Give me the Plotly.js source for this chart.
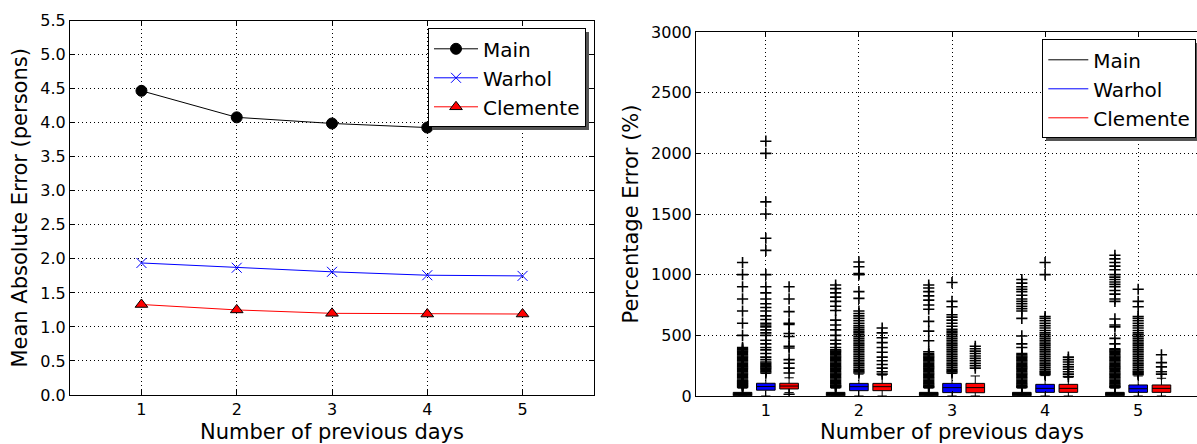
<!DOCTYPE html>
<html>
<head>
<meta charset="utf-8">
<script src="https://cdn.plot.ly/plotly-3.0.1.min.js"></script>
<style>
html, body { margin: 0; padding: 0; overflow: hidden; background: #fff; width: 1197px; height: 444px; }
#chart { width: 1210px; height: 444px; }
</style>
</head>
<body>
<div id="chart"></div>
<script>
// ---------- data ----------
const days = [1, 2, 3, 4, 5];
const seriesNames = ["Main", "Warhol", "Clemente"];

// Left panel: Mean Absolute Error (persons)
const maeMain = [4.47, 4.08, 3.99, 3.93, 3.99];
const maeWarhol = [1.94, 1.87, 1.81, 1.76, 1.75];
const maeClemente = [1.33, 1.25, 1.20, 1.19, 1.19];

// Right panel: Percentage Error (%) box statistics per day
const mainQ1 = [2, 2, 2, 2, 2];
const mainMedian = [12, 12, 12, 12, 12];
const mainQ3 = [30, 30, 30, 30, 30];
const mainLower = [0, 0, 0, 0, 0];
const mainUpper = [65, 65, 65, 65, 65];

const warholQ1 = [48, 44, 28, 30, 30];
const warholMedian = [78, 77, 69, 63, 60];
const warholQ3 = [105, 104, 104, 96, 91];
const warholLower = [0, 0, 0, 0, 0];
const warholUpper = [185, 180, 185, 168, 165];

const clementeQ1 = [58, 44, 27, 30, 30];
const clementeMedian = [82, 77, 69, 63, 63];
const clementeQ3 = [105, 104, 104, 96, 91];
const clementeLower = [28, 0, 0, 0, 0];
const clementeUpper = [150, 172, 165, 154, 146];

// outliers per day
const mainOutliers = [
  [70,75,80,85,90,95,100,105,110,115,120,125,130,140,150,160,170,180,190,200,210,220,230,240,250,260,270,280,290,300,310,320,330,340,350,360,370,380,390,400,500,600,700,800,900,1000,1100],
  [70,75,80,85,90,100,110,120,130,140,150,160,170,180,190,200,210,220,230,240,250,260,270,280,290,300,310,320,330,340,350,360,370,380,400,430,460,500,545,585,625,705,740,780,815,850,885,915],
  [70,75,80,90,100,110,120,130,140,150,160,170,180,190,200,210,220,230,240,250,260,270,280,290,300,310,320,330,340,350,365,455,535,615,715,750,790,825,860,890,915],
  [70,75,80,90,100,110,120,130,140,150,160,170,180,190,200,210,220,230,240,250,260,270,280,290,300,310,320,330,340,350,400,430,495,640,700,720,740,760,780,800,830,860,880,900,930,960],
  [70,75,80,90,100,110,120,130,140,150,160,170,180,190,200,210,220,230,240,250,260,270,280,290,300,310,320,330,340,350,360,370,380,390,430,475,570,585,635,780,800,840,870,900,920,940,960,980,1000,1040,1070,1100,1130,1160]
];
const warholOutliers = [
  [190,200,210,220,230,240,250,260,270,280,300,320,350,380,400,430,460,500,520,545,570,585,600,630,660,700,730,760,800,850,900,1000,1200,1300,1500,1600,2000,2100],
  [190,200,210,220,235,250,265,280,295,310,325,340,355,370,385,400,415,430,445,460,475,490,505,520,535,550,565,580,600,620,640,660,680,700,805,860,1000,1010,1065,1105],
  [190,200,210,220,235,250,265,280,295,310,325,340,355,370,385,400,415,430,445,460,475,490,505,520,535,550,575,600,625,650,670,735,780,935],
  [175,185,195,205,220,235,250,265,280,295,310,325,340,355,370,385,400,415,430,445,460,475,490,505,520,540,560,580,600,620,640,655,1000,1100],
  [175,185,195,205,220,235,250,265,280,295,310,325,340,355,370,385,400,415,430,445,460,475,490,505,520,540,560,580,600,620,640,655,735,780,880]
];
const clementeOutliers = [
  [14,190,230,270,300,395,410,490,515,590,600,695,800,900],
  [180,200,230,260,290,320,360,400,440,480,520,560],
  [230,250,270,290,310,330,350,370,390,410],
  [160,180,200,220,240,260,280,300,320],
  [180,200,240,275,340]
];

const xTitle = "Number of previous days";
const yTitleLeft = "Mean Absolute Error (persons)";
const yTitleRight = "Percentage Error (%)";

// ---------- build ----------
const W = 1210, H = 444;
const FONT = "DejaVu Sans";
const offsets = [-0.25, 0, 0.25];
const colors = ["#000000", "#0000ff", "#ff0000"];

const traces = [];

const maeSeries = [maeMain, maeWarhol, maeClemente];
const markers = [
  {symbol: "circle", size: 11, color: "#000000", line: {color: "#000000", width: 1}},
  {symbol: "x-thin", size: 10, color: "#0000ff", line: {color: "#0000ff", width: 1}},
  {symbol: "triangle-up", size: 11, color: "#ff0000", line: {color: "#000000", width: 1}}
];
maeSeries.forEach((vals, i) => {
  traces.push({
    type: "scatter", mode: "lines+markers", name: seriesNames[i],
    x: days, y: vals, xaxis: "x", yaxis: "y",
    line: {color: colors[i], width: 1},
    marker: markers[i],
    legend: "legend", showlegend: true, cliponaxis: false
  });
});

const stats = [
  [mainQ1, mainMedian, mainQ3, mainLower, mainUpper, mainOutliers],
  [warholQ1, warholMedian, warholQ3, warholLower, warholUpper, warholOutliers],
  [clementeQ1, clementeMedian, clementeQ3, clementeLower, clementeUpper, clementeOutliers]
];
stats.forEach((s, i) => {
  const xs = days.map(d => d + offsets[i]);
  traces.push({
    type: "box", name: seriesNames[i], x: xs,
    q1: s[0], median: s[1], q3: s[2], lowerfence: s[3], upperfence: s[4],
    width: 0.2, whiskerwidth: 0.5, boxpoints: false,
    fillcolor: colors[i], line: {color: "#000000", width: 1},
    xaxis: "x2", yaxis: "y2", showlegend: false, hoverinfo: "skip"
  });
  const ox = [], oy = [];
  s[5].forEach((arr, k) => { arr.forEach(v => { ox.push(xs[k]); oy.push(v); }); });
  traces.push({
    type: "scatter", mode: "markers", x: ox, y: oy, xaxis: "x2", yaxis: "y2",
    marker: {symbol: "cross-thin", size: 8, line: {color: "#000000", width: 1.6}},
    showlegend: false, hoverinfo: "skip"
  });
});
seriesNames.forEach((n, i) => {
  traces.push({
    type: "scatter", mode: "lines", name: n, x: [null], y: [null],
    xaxis: "x2", yaxis: "y2", line: {color: colors[i], width: 1},
    legend: "legend2", showlegend: true
  });
});

const axisCommon = {
  showline: true, linecolor: "#000", linewidth: 1, mirror: "ticks",
  ticks: "inside", ticklen: 5, tickcolor: "#000", tickwidth: 1,
  showgrid: true, gridcolor: "#000", griddash: "1px,3px", gridwidth: 1,
  zeroline: false, automargin: false,
  tickfont: {family: FONT, size: 16, color: "#000"}
};
const titleFont = {family: FONT, size: 21, color: "#000"};

const layout = {
  width: W, height: H,
  margin: {l: 0, r: 0, t: 0, b: 0},
  paper_bgcolor: "#fff", plot_bgcolor: "#fff",
  font: {family: FONT, color: "#000"},
  boxmode: "overlay",
  xaxis: Object.assign({}, axisCommon, {
    domain: [70 / W, 594 / W], range: [0.25, 5.75], tickvals: days, anchor: "y",
    title: {text: xTitle, font: titleFont, standoff: 10}
  }),
  yaxis: Object.assign({}, axisCommon, {
    domain: [1 - 395 / H, 1 - 20.7 / H], range: [0, 5.5], dtick: 0.5, tick0: 0,
    tickformat: ".1f", anchor: "x",
    title: {text: yTitleLeft, font: titleFont, standoff: 6}
  }),
  xaxis2: Object.assign({}, axisCommon, {
    domain: [696 / W, 1208 / W], range: [0.25, 5.75], tickvals: days, anchor: "y2",
    title: {text: xTitle, font: titleFont, standoff: 10}
  }),
  yaxis2: Object.assign({}, axisCommon, {
    domain: [1 - 396 / H, 1 - 32 / H], range: [0, 3000], dtick: 500, tick0: 0, anchor: "x2",
    title: {text: yTitleRight, font: titleFont, standoff: 6}
  }),
  legend: {
    x: 586 / W, xanchor: "right", y: 1 - 28.3 / H, yanchor: "top",
    bgcolor: "#fff", bordercolor: "#000", borderwidth: 1,
    font: {family: FONT, size: 20, color: "#000"},
    tracegroupgap: 0, itemwidth: 44
  },
  legend2: {
    x: 1042.3 / W, xanchor: "left", y: 1 - 39.3 / H, yanchor: "top",
    bgcolor: "#fff", bordercolor: "#000", borderwidth: 1,
    font: {family: FONT, size: 20, color: "#000"},
    tracegroupgap: 0, itemwidth: 40
  }
};

Plotly.newPlot("chart", traces, layout, {displayModeBar: false, staticPlot: true}).then(gd => {
  // drop shadow behind each legend box (a copy of its frame, shifted 3px)
  gd.querySelectorAll("g.legend > rect.bg, g.legend2 > rect.bg").forEach(r => {
    const sh = r.cloneNode(false);
    sh.setAttribute("class", "legend-shadow");
    sh.style.fill = "#555";
    sh.style.stroke = "none";
    const t = r.getAttribute("transform") || "";
    sh.setAttribute("transform", t + " translate(3,3)");
    r.parentNode.insertBefore(sh, r);
  });
});
</script>
</body>
</html>
